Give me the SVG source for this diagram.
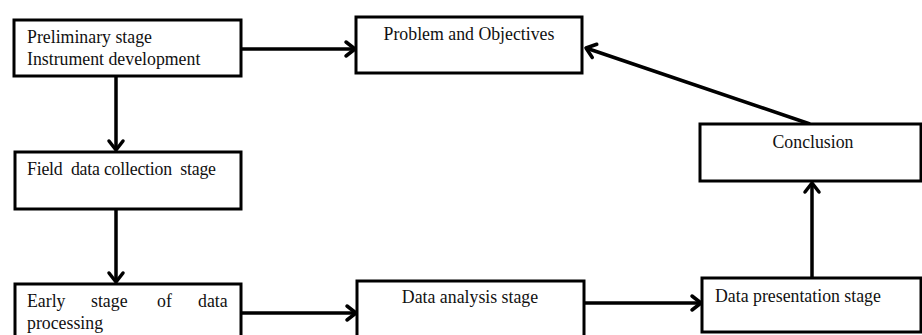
<svg xmlns="http://www.w3.org/2000/svg" width="922" height="335" viewBox="0 0 922 335">
<defs>
<style>
.box{fill:#fff;stroke:#000;stroke-width:3}
.lbl{font-family:"Liberation Serif","Times New Roman",serif;font-size:17.8px;fill:#111}
.c{text-anchor:middle}
.con{fill:none;stroke:#000;stroke-width:3.5;marker-end:url(#ah)}
</style>
<marker id="ah" markerUnits="userSpaceOnUse" markerWidth="20" markerHeight="20" refX="12" refY="10" orient="auto">
<path d="M3,3 L12,10 L3,17" fill="none" stroke="#000" stroke-width="3.5" stroke-linecap="round" stroke-linejoin="round"/>
</marker>
</defs>
<rect width="922" height="335" fill="#fff"/>
<g id="connectors">
<line class="con" x1="241" y1="49" x2="355" y2="49"/>
<line class="con" x1="116" y1="76" x2="116" y2="150"/>
<line class="con" x1="116" y1="209" x2="116" y2="282"/>
<line class="con" x1="241" y1="313" x2="356" y2="313"/>
<line class="con" x1="584" y1="303" x2="701" y2="303"/>
<line class="con" x1="812" y1="278" x2="812" y2="183"/>
<line class="con" x1="810" y1="124" x2="586" y2="48"/>
</g>
<g id="preliminary">
<rect class="box" x="14" y="20" width="227" height="56"/>
<text class="lbl" x="27" y="43">Preliminary stage</text>
<text class="lbl" x="27" y="65">Instrument development</text>
</g>
<g id="problem">
<rect class="box" x="356" y="17" width="226" height="56"/>
<text class="lbl c" x="469" y="40">Problem and Objectives</text>
</g>
<g id="conclusion">
<rect class="box" x="700" y="124" width="221" height="57"/>
<text class="lbl c" x="813" y="148">Conclusion</text>
</g>
<g id="field">
<rect class="box" x="15" y="152" width="226" height="57"/>
<text class="lbl" x="27" y="175" xml:space="preserve" textLength="189" lengthAdjust="spacing">Field  data collection  stage</text>
</g>
<g id="early">
<rect class="box" x="15" y="284" width="226" height="60"/>
<text class="lbl"><tspan x="27" y="307">Early</tspan><tspan x="91" y="307">stage</tspan><tspan x="157" y="307">of</tspan><tspan x="198" y="307">data</tspan></text>
<text class="lbl" x="27" y="329">processing</text>
</g>
<g id="analysis">
<rect class="box" x="357" y="281" width="227" height="60"/>
<text class="lbl c" x="470" y="303">Data analysis stage</text>
</g>
<g id="presentation">
<rect class="box" x="702" y="278" width="219" height="54"/>
<text class="lbl" x="715" y="302">Data presentation stage</text>
</g>
</svg>
